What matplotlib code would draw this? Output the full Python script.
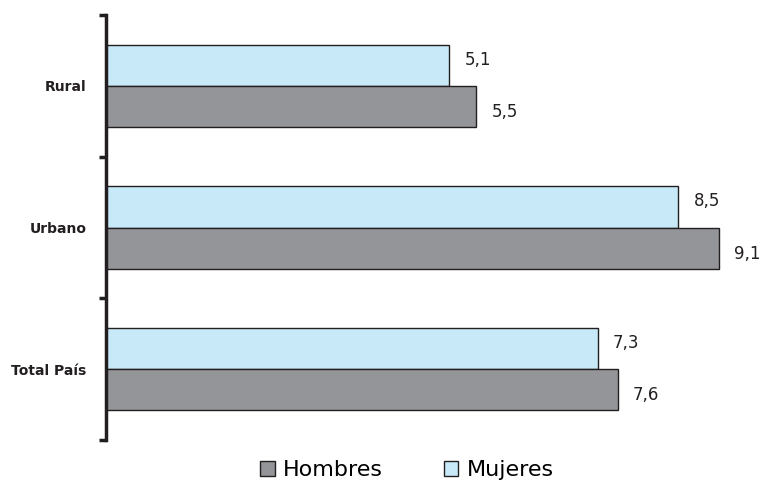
import matplotlib
matplotlib.use("Agg")
import matplotlib.pyplot as plt
import numpy as np

categories = ["Rural", "Urbano", "Total País"]
mujeres = [5.1, 8.5, 7.3]
hombres = [5.5, 9.1, 7.6]
mujeres_labels = ["5,1", "8,5", "7,3"]
hombres_labels = ["5,5", "9,1", "7,6"]

c_h = "#939598"
c_m = "#C8EAF8"
edge = "#231F20"

fig = plt.figure(figsize=(7.63, 4.83), dpi=100)
ax = fig.add_axes([106/763, 1-440/483, 641/763, 425/483])

y = np.arange(len(categories))
h = 0.29
ax.barh(y - h/2, mujeres, height=h, color=c_m, edgecolor=edge, linewidth=1.0, label="Mujeres")
ax.barh(y + h/2, hombres, height=h, color=c_h, edgecolor=edge, linewidth=1.0, label="Hombres")

for yi, v, t in zip(y, mujeres, mujeres_labels):
    ax.annotate(t, (v, yi - h/2), xytext=(11, 4), textcoords="offset points",
                ha="left", va="center", fontsize=12, color="#231F20")
for yi, v, t in zip(y, hombres, hombres_labels):
    ax.annotate(t, (v, yi + h/2), xytext=(11, -4), textcoords="offset points",
                ha="left", va="center", fontsize=12, color="#231F20")

ax.set_xlim(0, 9.52)
ax.set_ylim(2.5, -0.5)
ax.set_yticks([-0.5, 0.5, 1.5, 2.5])
ax.set_yticklabels([])
ax.set_yticks(y, minor=True)
ax.set_yticklabels(categories, minor=True, fontsize=10, fontweight="bold", color="#231F20")
ax.tick_params(axis="y", which="minor", length=0, pad=14)
ax.tick_params(axis="y", which="major", length=5, width=2.5, color="#231F20", direction="out")
ax.set_xticks([])
for s in ["top", "right", "bottom"]:
    ax.spines[s].set_visible(False)
ax.spines["left"].set_linewidth(2.5)
ax.spines["left"].set_color("#231F20")

handles, labels = ax.get_legend_handles_labels()
order = [1, 0]
leg = fig.legend([handles[i] for i in order], [labels[i] for i in order],
                 loc="center", bbox_to_anchor=(407/763, 1-470/483), ncol=2,
                 frameon=False, fontsize=16, handlelength=0.65, handleheight=0.65,
                 handletextpad=0.36, columnspacing=2.75)

fig.savefig("out.png", dpi=100)
